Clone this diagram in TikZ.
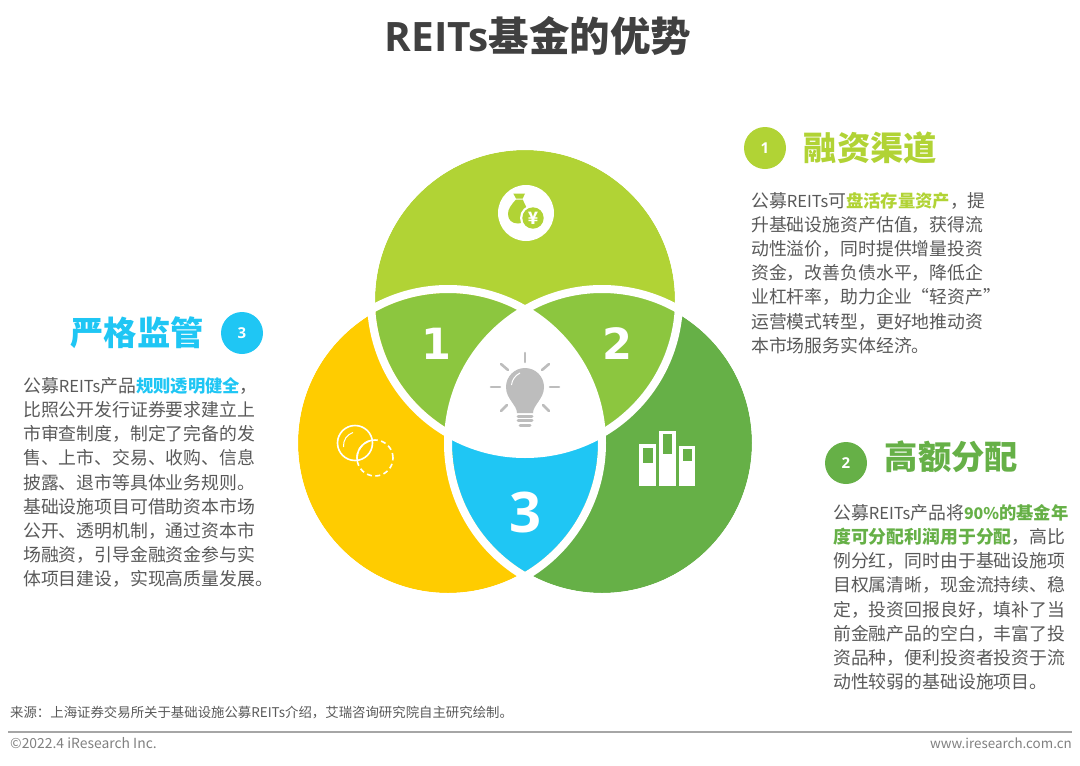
\documentclass[tikz,border=0pt]{standalone}
\usepackage{fontspec}
\setmainfont{Noto Sans CJK SC}
\newfontfamily\opensans{Open Sans}
\newfontfamily\dejavu{DejaVu Sans}
\definecolor{topgreen}{HTML}{B1D335}
\definecolor{midgreen}{HTML}{8CC63F}
\definecolor{deepgreen}{HTML}{66B047}
\definecolor{venngold}{HTML}{FFCC00}
\definecolor{vennblue}{HTML}{1FC6F4}
\definecolor{bodygrey}{HTML}{595959}
\definecolor{bulbgrey}{HTML}{BDBDBD}
\newcommand{\hlt}[2]{\textcolor{#1}{\bfseries #2}}
\newcommand{\hltn}[2]{\textcolor{#1}{\fontsize{17.3}{24.2}\selectfont\bfseries #2}}
\newcommand{\rts}{{\fontsize{16.5}{24.2}\selectfont REITs}}
\begin{document}
\begin{tikzpicture}[x=1pt,y=-1pt,
    badge/.style={circle,fill=#1,text=white,minimum size=42pt,inner sep=0pt,
                  font=\fontsize{15}{15}\selectfont\opensans\bfseries},
    heading/.style={text=#1,inner sep=0pt,font=\fontsize{33.3}{36}\selectfont\bfseries},
    para/.style={anchor=north west,align=left,inner sep=0pt,text=bodygrey,
                 font=\fontsize{17.85}{24.2}\selectfont},
    lobenum/.style={text=white,inner sep=0pt,font=\fontsize{43}{43}\selectfont\dejavu\bfseries},
    ring/.style={draw=white,line width=8pt},
    foot/.style={inner sep=0pt,text=gray,font=\fontsize{13.4}{15}\selectfont},
    ray/.style={draw=bulbgrey,line width=2.6pt,line cap=round}
                   ]
    \useasboundingbox (0,0) rectangle (1080,766);

    \coordinate (ctop) at (525,300);
    \coordinate (cleft) at (448,443);
    \coordinate (cright) at (602,443);

    \fill[topgreen] (ctop) circle (150pt);
    \fill[venngold] (cleft) circle (150pt);
    \fill[deepgreen] (cright) circle (150pt);
    \begin{scope}
        \clip (ctop) circle (150pt);
        \fill[midgreen] (cleft) circle (150pt);
        \fill[midgreen] (cright) circle (150pt);
    \end{scope}
    \begin{scope}
        \clip (cleft) circle (150pt);
        \fill[vennblue] (cright) circle (150pt);
    \end{scope}
    \begin{scope}
        \clip (cleft) circle (152pt);
        \clip (cright) circle (152pt);
        \fill[white] (ctop) circle (152pt);
    \end{scope}
    \draw[ring] (ctop) circle (154pt);
    \draw[ring] (cleft) circle (154pt);
    \draw[ring] (cright) circle (154pt);

    \node[lobenum] (n1) at (436,344) {1};
    \node[lobenum] (n2) at (617,344) {2};
    \node[lobenum,font=\fontsize{56}{56}\selectfont\opensans\bfseries] (n3) at (525,512) {3};

    \fill[white] (526,213) circle (28pt);
    \fill[topgreen] (513.3,193.5) -- (525,193.5) -- (522.7,198.5) -- (516,198.5) -- cycle;
    \fill[topgreen] (516,199.5) .. controls (511,205) and (508,209) .. (508,214)
        .. controls (508,220) and (512,223.5) .. (518,223.5)
        .. controls (524,223.5) and (528,220) .. (528,214)
        .. controls (528,209) and (525,205) .. (522.7,199.5) -- cycle;
    \fill[white] (533,218) circle (13pt);
    \fill[topgreen] (533,218) circle (10.7pt);
    \node[text=white,inner sep=0pt,font=\fontsize{17}{17}\selectfont\bfseries] (yen) at (533,218) {¥};

    \fill[bulbgrey] (517,413) .. controls (517,405) and (506,399) .. (506,387)
        .. controls (506,376.5) and (514.5,368) .. (525,368)
        .. controls (535.5,368) and (544,376.5) .. (544,387)
        .. controls (544,399) and (533,405) .. (533,413) -- cycle;
    \draw[white,line width=1pt] (511.5,385) .. controls (512,380) and (515,375.5) .. (520,373);
    \draw[ray,line width=3pt] (518,416.5) -- (532,416.5);
    \draw[ray,line width=3pt] (518,420.8) -- (532,420.8);
    \draw[ray,line width=3pt] (520,425.2) -- (530,425.2);
    \draw[ray] (525,353) -- (525,362);
    \draw[ray] (491,387) -- (500,387);
    \draw[ray] (550,387) -- (559,387);
    \draw[ray] (501,364) -- (508,370);
    \draw[ray] (549,364) -- (542,370);
    \draw[ray] (501,411) -- (507,405);
    \draw[ray] (549,411) -- (543,405);

    \draw[white,line width=1.6pt,dashed,dash pattern=on 5pt off 3.5pt] (375,458) circle (18pt);
    \begin{scope}
        \clip (355,443) circle (17.5pt);
        \draw[white,line width=1.6pt] (375,458) circle (18pt);
    \end{scope}
    \draw[white,line width=1.6pt] (355,443) circle (17.5pt);
    \draw[white,line width=1pt] (343.5,447) .. controls (343,440) and (347,434.5) .. (353,432.5);

    \fill[white] (639.3,444.3) rectangle (656,486);
    \fill[white] (659.3,430.7) rectangle (675.7,486);
    \fill[white] (679.3,445.7) rectangle (695,486);
    \fill[deepgreen] (642.7,447.7) rectangle (652.7,463.3);
    \fill[deepgreen] (662.7,434.3) rectangle (672.3,454.3);
    \fill[deepgreen] (682.7,449) rectangle (692.3,460.7);

    \node[inner sep=0pt,text=black!75,font=\fontsize{40.5}{44}\selectfont\bfseries] (title) at (538,36)
        {{\opensans REITs}基金的优势};

    \node[badge=topgreen] (b1) at (765,148) {1};
    \node[badge=deepgreen] (b2) at (846,463) {2};
    \node[badge=vennblue] (b3) at (242,333) {3};
    \node[heading=topgreen,right of=b1,node distance=105.5pt] (h1) {融资渠道};
    \node[heading=deepgreen,right of=b2,node distance=105.5pt,yshift=6pt] (h2) {高额分配};
    \node[heading=vennblue,left of=b3,node distance=105pt] (h3) {严格监管};

    \node[para] (p1) at (751,192) {公募\rts 可\hltn{topgreen}{盘活存量资产}，提\\
        升基础设施资产估值，获得流\\
        动性溢价，同时提供增量投资\\
        资金，改善负债水平，降低企\\
        业杠杆率，助力企业“轻资产”\\
        运营模式转型，更好地推动资\\
        本市场服务实体经济。};
    \node[para] (p2) at (833,504) {公募\rts 产品将\hltn{deepgreen}{{\fontsize{16}{24.2}\selectfont 90\%}的基金年}\\
        \hlt{deepgreen}{度可分配利润用于分配}，高比\\
        例分红，同时由于基础设施项\\
        目权属清晰，现金流持续、稳\\
        定，投资回报良好，填补了当\\
        前金融产品的空白，丰富了投\\
        资品种，便利投资者投资于流\\
        动性较弱的基础设施项目。};
    \node[para] (p3) at (23,377) {公募\rts 产品\hltn{vennblue}{规则透明健全}，\\
        比照公开发行证券要求建立上\\
        市审查制度，制定了完备的发\\
        售、上市、交易、收购、信息\\
        披露、退市等具体业务规则。\\
        基础设施项目可借助资本市场\\
        公开、透明机制，通过资本市\\
        场融资，引导金融资金参与实\\
        体项目建设，实现高质量发展。};

    \node[foot,anchor=west,text=bodygrey] (src) at (10,713) {来源：上海证券交易所关于基础设施公募REITs介绍，艾瑞咨询研究院自主研究绘制。};
    \coordinate (r0) at (8,732);
    \coordinate (r1) at (1072,732);
    \draw[gray!70,line width=1.3pt] (r0) -- (r1);
    \node[foot,anchor=west,font=\fontsize{13.9}{15}\selectfont] (copy) at (10,743.5) {©2022.4 iResearch Inc.};
    \node[foot,anchor=east] (web) at (1072,743.5) {www.iresearch.com.cn};

\end{tikzpicture}
\end{document}
